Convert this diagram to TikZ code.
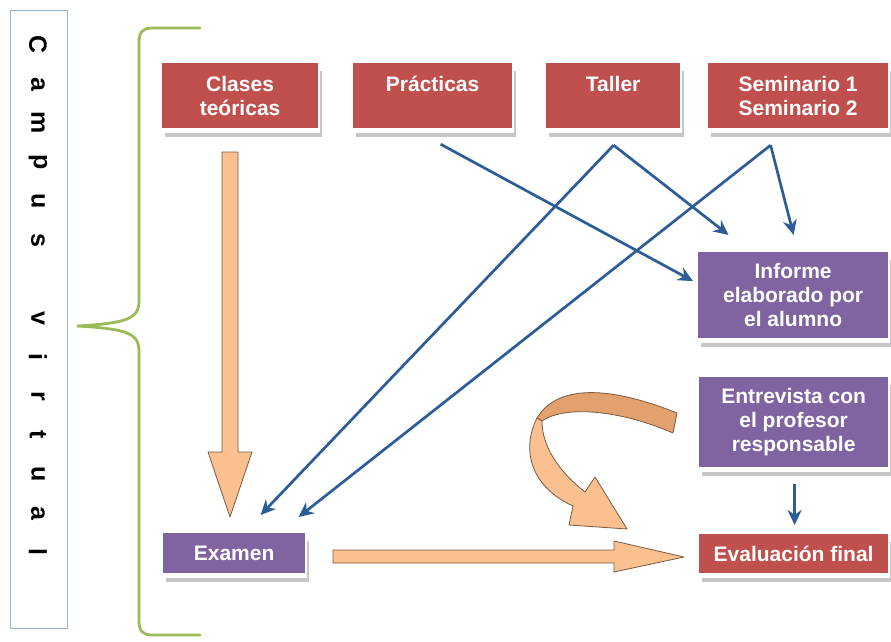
\documentclass[tikz,border=0pt]{standalone}
\usepackage{fontspec}
\setmainfont{Liberation Sans}
\usetikzlibrary{positioning,shadows,arrows.meta}

\definecolor{boxred}{HTML}{C0504D}
\definecolor{boxpurple}{HTML}{8064A2}
\definecolor{linkblue}{HTML}{2C5D98}
\definecolor{blockorange}{HTML}{FAC090}
\definecolor{blockback}{HTML}{E3A16D}
\definecolor{blockedge}{HTML}{7A5A40}
\definecolor{bracegreen}{HTML}{9BBB59}
\definecolor{stripblue}{HTML}{95B3D7}

% text sitting at the top of the upper boxes
\newcommand{\toptext}[2]{\parbox[c][66pt][t]{#1}{\centering\rule{0pt}{29pt}#2}}

\begin{document}
\begin{tikzpicture}[x=1pt,y=-1pt,
    box/.style={draw=white, line width=1.2pt, text=white, inner sep=0pt,
      align=center, anchor=north west,
      font=\bfseries\fontsize{21}{24}\selectfont,
      general shadow={shadow xshift=3pt, shadow yshift=-8pt, fill=gray!45},
      general shadow={shadow xshift=1pt, shadow yshift=-4pt, fill=white}},
    redbox/.style={box, fill=boxred},
    purplebox/.style={box, fill=boxpurple},
    letter/.style={rotate=-90, font=\bfseries\fontsize{25}{25}\selectfont, inner sep=0pt},
    link/.style={draw=linkblue, line width=2.7pt, -{Stealth[length=15pt,width=14pt]}},
    block/.style={fill=blockorange, draw=blockedge, line width=0.8pt, line join=round}]

  \useasboundingbox (0,0) rectangle (891,641);
  \fill[white] (0,0) rectangle (891,641);

  % Campus virtual strip
  \node[draw=stripblue, line width=1.2pt, minimum width=57pt, minimum height=618pt,
        anchor=north west, inner sep=0pt] (campus) at (10,10) {};
  \foreach \ch [count=\i] in {C,a,m,p,u,s,{},v,i,r,t,u,a,l}
    \node[letter] (l\i) at (38,{45+39*(\i-1)}) {\ch};

  % Brace
  \draw[bracegreen, line width=2.8pt, line cap=round]
    (200,28) -- (152,28) .. controls (143,28) and (139,32) .. (139,42)
    -- (139,300) .. controls (139,318) and (130,323) .. (77,326)
    .. controls (130,329) and (139,334) .. (139,352)
    -- (139,621) .. controls (139,631) and (143,635) .. (152,635) -- (200,635);

  % Upper boxes
  \node[redbox, minimum width=157pt, minimum height=66pt] (clases) at (161,62)
    {\toptext{150pt}{Clases\\teóricas}};
  \node[redbox, minimum width=160pt, minimum height=66pt] (practicas) at (352,62)
    {\toptext{150pt}{Prácticas}};
  \node[redbox, minimum width=135pt, minimum height=66pt] (taller) at (545,62)
    {\toptext{130pt}{Taller}};
  \node[redbox, minimum width=181pt, minimum height=66pt] (seminario) at (707,62)
    {\toptext{175pt}{Seminario 1\\Seminario 2}};

  % Right column
  \node[purplebox, minimum width=191pt, minimum height=87pt] (informe) at (697,251)
    {Informe\\elaborado por\\el alumno};
  \node[purplebox, minimum width=190pt, minimum height=91pt] (entrevista) at (698,376)
    {Entrevista con\\el profesor\\responsable};
  \node[redbox, minimum width=190pt, minimum height=40pt] (evaluacion) at (698,533)
    {Evaluación final};

  % Examen
  \node[purplebox, minimum width=143pt, minimum height=41pt] (examen) at (162,532)
    {Examen};

  % Block arrows
  \draw[block] (222,152) -- (238,152) -- (238,452) -- (252,452) -- (230,517)
    -- (208,452) -- (222,452) -- cycle;
  \draw[block] (333,550) -- (614,550) -- (614,541) -- (684,557) -- (614,572)
    -- (614,563) -- (333,563) -- cycle;
  \draw[block, fill=blockback] (677,413) .. controls (620,390) and (560,380) .. (537,418)
    -- (542,421) .. controls (565,405) and (620,410) .. (673,433) -- cycle;
  \draw[block] (537,418) .. controls (520,452) and (533,488) .. (573,506)
    -- (569,525) -- (627,529) -- (595,477) -- (585,492)
    .. controls (557,470) and (542,445) .. (542,421) -- cycle;

  % Blue links
  \coordinate (pra) at ([xshift=8pt,yshift=-15pt]practicas.south);
  \coordinate (tal) at ([xshift=0.5pt,yshift=-16pt]taller.south);
  \coordinate (sem) at ([xshift=-27.5pt,yshift=-16pt]seminario.south);

  \draw[link] (pra) -- ([xshift=-4pt,yshift=14pt]informe.west);
  \draw[link] (tal) -- ([xshift=-64.5pt,yshift=16pt]informe.north);
  \draw[link] (tal) -- ([xshift=26.5pt,yshift=17pt]examen.north);
  \draw[link] (sem) -- ([xshift=0.5pt,yshift=16pt]informe.north);
  \draw[link] (sem) -- ([xshift=64.5pt,yshift=15pt]examen.north);
  \draw[link] ([xshift=1pt,yshift=-16pt]entrevista.south) -- ([xshift=1pt,yshift=8pt]evaluacion.north);
\end{tikzpicture}
\end{document}
